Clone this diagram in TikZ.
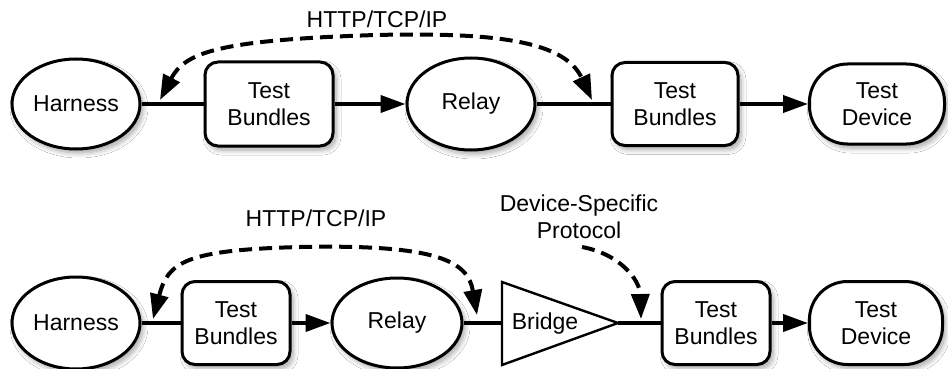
\documentclass[tikz,border=0pt]{standalone}
\usepackage{fontspec}
\setmainfont{Liberation Sans}
\usetikzlibrary{shapes.geometric,arrows.meta,shadows.blur,calc}
\tikzset{
  shad/.style={blur shadow={shadow xshift=3pt,shadow yshift=-4pt,shadow blur radius=5pt,shadow opacity=35,shadow blur steps=8}},
  oval/.style={ellipse,draw,line width=3pt,fill=white,inner sep=0pt,shad},
  bundle/.style={rectangle,draw,line width=3pt,fill=white,rounded corners=13pt,inner sep=0pt,align=center,shad},
  devbox/.style={rectangle,draw,line width=3pt,fill=white,rounded corners=38pt,inner sep=0pt,align=center,shad},
  conn/.style={line width=4pt},
  arr/.style={conn,-{Triangle[length=25pt,width=17pt]}},
  dash2/.style={line width=4pt,dash pattern=on 13pt off 7pt,{Triangle[length=25pt,width=18pt]}-{Triangle[length=25pt,width=18pt]}},
  dash1/.style={line width=4pt,dash pattern=on 13pt off 7pt,-{Triangle[length=25pt,width=18pt]}},
  lbl/.style={inner sep=0pt,align=center}
}
\begin{document}
\begin{tikzpicture}[x=1pt,y=-1pt,font=\fontsize{23}{27}\selectfont]
\useasboundingbox[fill=white] (0,0) rectangle (948,369);
% top row
\node[oval,minimum width=128pt,minimum height=90pt] (h1) at (76,104) {Harness};
\node[bundle,minimum width=128pt,minimum height=84pt] (tb1) at (269,104) {Test\\Bundles};
\node[oval,minimum width=128pt,minimum height=92pt] (r1) at (471,104) {Relay};
\node[bundle,minimum width=126pt,minimum height=83pt] (tb2) at (675,104) {Test\\Bundles};
\node[devbox,minimum width=135pt,minimum height=80pt] (d1) at (877,104) {Test\\Device};
\draw[conn] (h1.east) -- (tb1.west);
\draw[arr] (tb1.east) -- (r1.west);
\draw[conn] (r1.east) -- (tb2.west);
\draw[arr] (tb2.east) -- (d1.west);
\coordinate (a1) at (160,100);
\coordinate (a2) at (592,100);
\draw[dash2] (a1) .. controls (185,52) and (220,40) .. (376,35) .. controls (500,32) and (565,42) .. (a2);
\node[lbl] (l1) at (377,19) {HTTP/TCP/IP};
% bottom row
\node[oval,minimum width=128pt,minimum height=92pt] (h2) at (76,323) {Harness};
\node[bundle,minimum width=108pt,minimum height=83pt] (tb3) at (236,323) {Test\\Bundles};
\node[oval,minimum width=130pt,minimum height=90pt] (r2) at (397,323) {Relay};
\draw[line width=2.4pt,fill=white] (502,282) -- (618,323) -- (502,365) -- cycle;
\coordinate (bl) at (502,323);
\coordinate (br) at (618,323);
\node[lbl] (br1) at (545,324) {Bridge};
\node[bundle,minimum width=108pt,minimum height=83pt] (tb4) at (716,323) {Test\\Bundles};
\node[devbox,minimum width=133pt,minimum height=83pt] (d2) at (876,323) {Test\\Device};
\draw[conn] (h2.east) -- (tb3.west);
\draw[arr] (tb3.east) -- (r2.west);
\draw[conn] (r2.east) -- (bl);
\draw[conn] (br) -- (tb4.west);
\draw[arr] (tb4.east) -- (d2.west);
\coordinate (b1) at (153,319);
\coordinate (b2) at (477,315);
\draw[dash2] (b1) .. controls (168,262) and (185,250) .. (300,247) .. controls (440,244) and (468,262) .. (b2);
\node[lbl] (l2) at (316,218) {HTTP/TCP/IP};
\node[lbl] (l3) at (579,217) {Device-Specific\\Protocol};
\coordinate (c1) at (582,247);
\coordinate (c2) at (641,319);
\draw[dash1] (c1) .. controls (620,254) and (640,280) .. (c2);
\end{tikzpicture}
\end{document}
